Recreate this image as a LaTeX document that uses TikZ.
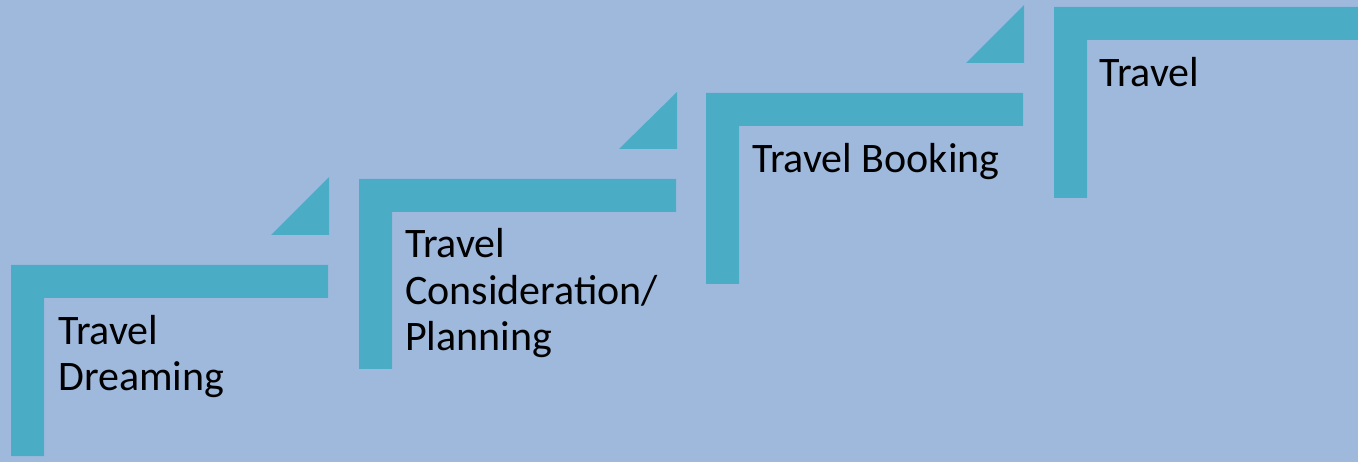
\documentclass[tikz,border=0pt]{standalone}
\usepackage{fontspec}
\setmainfont{Carlito}
\definecolor{bgblue}{RGB}{159,185,221}
\definecolor{stepteal}{RGB}{75,172,198}
\tikzset{
  lbar/.style={fill=stepteal, draw=none},
  tri/.style={fill=stepteal, draw=none},
  lbl/.style={anchor=base west, inner sep=0pt, align=left, text=black,
    font=\fontsize{42}{46.5}\selectfont}
}
\begin{document}
\begin{tikzpicture}[x=1pt,y=-1pt]
\fill[bgblue] (0,0) rectangle (1358,462);
\useasboundingbox (0,0) rectangle (1358,462);
% L shapes: left, top, right, bottom
\foreach \L/\T/\R/\B in {11/265/328/456, 359/179/676/369, 706/93/1023/284, 1054/7/1358/198}{
  \fill[lbar] (\L,\T) -- (\R,\T) -- (\R,\T+33) -- (\L+33,\T+33) -- (\L+33,\B) -- (\L,\B) -- cycle;
}
% triangles
\fill[tri] (329,177) -- (329,235) -- (271,235) -- cycle;
\fill[tri] (677,92) -- (677,149) -- (619,149) -- cycle;
\fill[tri] (1024,5) -- (1024,63) -- (966,63) -- cycle;
% labels (base anchor = baseline of last line)
\node[lbl] (s1) at (58,390.5) {Travel\\Dreaming};
\node[lbl] (s2) at (405,351) {Travel\\Consideration/\\Planning};
\node[lbl] (s3) at (752,173) {Travel Booking};
\node[lbl] (s4) at (1099,87) {Travel};
\end{tikzpicture}
\end{document}
